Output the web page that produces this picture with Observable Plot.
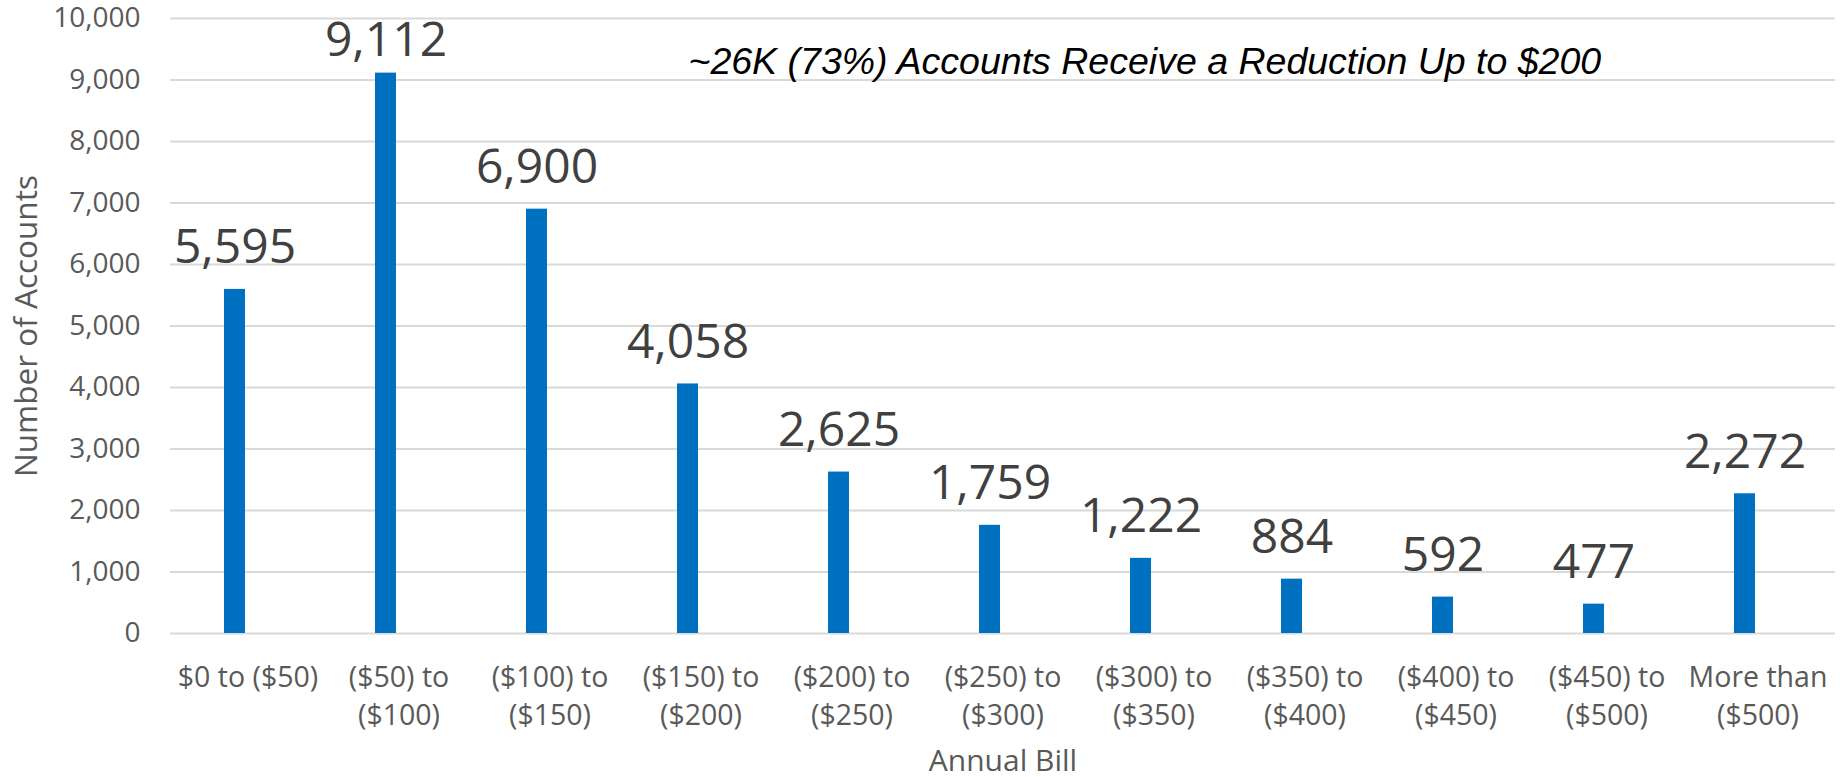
<!DOCTYPE html>
<html>
<head>
<meta charset="utf-8">
<script src="https://cdn.jsdelivr.net/npm/d3@7"></script>
<script src="https://cdn.jsdelivr.net/npm/@observablehq/plot@0.6"></script>
<style>
  html, body { margin: 0; padding: 0; background: #ffffff; }
  #chart svg { display: block; }
</style>
</head>
<body>
<div id="chart"></div>
<script>
// ---- Data ----
const categories = [
  "$0 to ($50)", "($50) to ($100)", "($100) to ($150)", "($150) to ($200)",
  "($200) to ($250)", "($250) to ($300)", "($300) to ($350)", "($350) to ($400)",
  "($400) to ($450)", "($450) to ($500)", "More than ($500)"
];
const tickLabels = [
  "$0 to ($50)", "($50) to\n($100)", "($100) to\n($150)", "($150) to\n($200)",
  "($200) to\n($250)", "($250) to\n($300)", "($300) to\n($350)", "($350) to\n($400)",
  "($400) to\n($450)", "($450) to\n($500)", "More than\n($500)"
];
const accounts = [5595, 9112, 6900, 4058, 2625, 1759, 1222, 884, 592, 477, 2272];
const yTicks = [0, 1000, 2000, 3000, 4000, 5000, 6000, 7000, 8000, 9000, 10000];
const annotation = "~26K (73%) Accounts Receive a Reduction Up to $200";
const xTitle = "Annual Bill";
const yTitle = "Number of Accounts";

const data = categories.map((c, i) => ({category: c, value: accounts[i]}));

const FONT = "'Open Sans', 'Noto Sans', sans-serif";
const BAR_SHIFT = -13;

const chart = Plot.plot({
  width: 1840,
  height: 777,
  marginTop: 18,
  marginBottom: 144,
  marginLeft: 170,
  marginRight: 5,
  style: {fontFamily: FONT, background: "#ffffff", overflow: "visible"},
  x: {domain: categories, paddingInner: 0.861, paddingOuter: 0.4305, axis: null},
  y: {domain: [0, 10000], axis: null},
  marks: [
    Plot.ruleY(yTicks, {stroke: "#d9d9d9", strokeWidth: 2}),
    Plot.barY(data, {x: "category", y: "value", fill: "#0070c0", dx: BAR_SHIFT}),
    Plot.axisY({
      ticks: yTicks, tickSize: 0, tickPadding: 30, tickFormat: d3.format(","),
      fontSize: 28, color: "#595959", label: null
    }),
    Plot.axisX({
      tickSize: 0, tickPadding: 27, lineHeight: 1.32,
      tickFormat: d => tickLabels[categories.indexOf(d)],
      fontSize: 28.5, color: "#595959", label: null
    }),
    Plot.text(data.filter(d => d.value < 9000), {
      x: "category", y: "value", text: d => d3.format(",")(d.value),
      lineAnchor: "bottom", dy: -26, dx: BAR_SHIFT, fontSize: 48, fill: "#404040"
    }),
    Plot.text(data.filter(d => d.value >= 9000), {
      x: "category", y: "value", text: d => d3.format(",")(d.value),
      lineAnchor: "bottom", dy: -17, dx: BAR_SHIFT, fontSize: 48, fill: "#404040"
    }),
    Plot.text([annotation], {
      frameAnchor: "top-left", textAnchor: "start", lineAnchor: "bottom",
      dx: 518, dy: 55, fontSize: 37.5, fontStyle: "italic",
      fontFamily: "'Liberation Sans', Arial, sans-serif", fill: "#000000"
    }),
    Plot.text([xTitle], {
      frameAnchor: "bottom", lineAnchor: "bottom", dy: 137,
      fontSize: 30, fill: "#595959"
    }),
    Plot.text([yTitle], {
      frameAnchor: "left", rotate: -90, textAnchor: "middle", lineAnchor: "bottom",
      dx: -134, fontSize: 31.5, fill: "#595959"
    })
  ]
});

document.getElementById("chart").appendChild(chart);
</script>
</body>
</html>
